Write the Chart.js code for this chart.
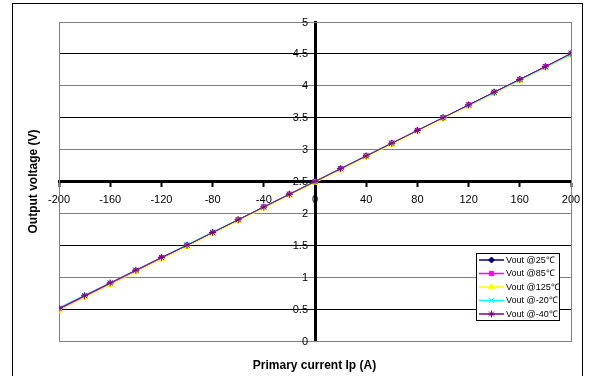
<!DOCTYPE html>
<html>
<head>
<meta charset="utf-8">
<script src="https://cdn.jsdelivr.net/npm/chart.js@4/dist/chart.umd.min.js"></script>
<style>
  html, body { margin: 0; padding: 0; background: #fff; }
  #chart { display: block; }
</style>
</head>
<body>
<canvas id="chart" width="590" height="376"></canvas>
<script>
// Primary current (A) on the x axis
const currents = [-200, -180, -160, -140, -120, -100, -80, -60, -40, -20, 0, 20, 40, 60, 80, 100, 120, 140, 160, 180, 200];

// Output voltage (V) per temperature
const vout25  = [0.50, 0.70, 0.90, 1.10, 1.30, 1.50, 1.70, 1.90, 2.10, 2.30, 2.50, 2.70, 2.90, 3.10, 3.30, 3.50, 3.70, 3.90, 4.10, 4.30, 4.50];
const vout85  = [0.50, 0.70, 0.90, 1.10, 1.30, 1.50, 1.70, 1.90, 2.10, 2.30, 2.50, 2.70, 2.90, 3.10, 3.30, 3.50, 3.70, 3.90, 4.10, 4.30, 4.50];
const vout125 = [0.48, 0.68, 0.88, 1.08, 1.28, 1.48, 1.68, 1.88, 2.08, 2.28, 2.48, 2.68, 2.88, 3.08, 3.28, 3.48, 3.68, 3.88, 4.08, 4.28, 4.48];
const voutM20 = [0.52, 0.72, 0.91, 1.11, 1.31, 1.51, 1.71, 1.90, 2.10, 2.30, 2.50, 2.70, 2.90, 3.10, 3.30, 3.50, 3.69, 3.89, 4.09, 4.29, 4.49];
const voutM40 = [0.51, 0.71, 0.91, 1.11, 1.31, 1.50, 1.70, 1.90, 2.10, 2.30, 2.50, 2.70, 2.90, 3.10, 3.30, 3.50, 3.70, 3.90, 4.10, 4.30, 4.51];

const seriesLabels = ['Vout @25\u2103', 'Vout @85\u2103', 'Vout @125\u2103', 'Vout @-20\u2103', 'Vout @-40\u2103'];
const xTitle = 'Primary current Ip (A)';
const yTitle = 'Output voltage (V)';

const FONT = '"Liberation Sans", Arial, sans-serif';

function toPoints(arr) {
    return currents.map((x, i) => ({ x: x, y: arr[i] }));
}

const seriesStyle = [
    { color: '#000080', pointStyle: 'rectRot', radius: 3 },
    { color: '#FF00FF', pointStyle: 'rect', radius: 3 },
    { color: '#FFFF00', pointStyle: 'triangle', radius: 3.5 },
    { color: '#00FFFF', pointStyle: 'crossRot', radius: 3.5 },
    { color: '#800080', pointStyle: 'star', radius: 3.5 }
];

const seriesData = [vout25, vout85, vout125, voutM20, voutM40];

const datasets = seriesData.map((arr, i) => ({
    label: seriesLabels[i],
    data: toPoints(arr),
    borderColor: seriesStyle[i].color,
    backgroundColor: seriesStyle[i].color,
    pointStyle: seriesStyle[i].pointStyle,
    pointRadius: seriesStyle[i].radius,
    pointBorderWidth: 1,
    borderWidth: 1,
    tension: 0,
    order: seriesData.length - i   // later series drawn on top, like Excel
}));

// white page, outer frame and grey plot frame
const frame = {
    id: 'frame',
    beforeDraw(chart) {
        const ctx = chart.ctx;
        ctx.save();
        ctx.fillStyle = '#fff';
        ctx.fillRect(0, 0, chart.width, chart.height);
        ctx.strokeStyle = '#000';
        ctx.lineWidth = 1;
        ctx.strokeRect(12.5, 3.5, 570, 400);
        ctx.restore();
    },
    beforeDatasetsDraw(chart) {
        const a = chart.chartArea;
        const ctx = chart.ctx;
        ctx.save();
        ctx.strokeStyle = '#808080';
        ctx.lineWidth = 1;
        ctx.strokeRect(Math.round(a.left) + 0.5, Math.round(a.top) + 0.5,
            Math.round(a.right - a.left), Math.round(a.bottom - a.top));
        ctx.restore();
    }
};

// y tick labels: the centred y axis puts them flush on the axis line,
// so draw them here with a small gap, reading positions from the scale
const yLabels = {
    id: 'yLabels',
    afterDraw(chart) {
        const ys = chart.scales.y;
        const xPix = chart.scales.x.getPixelForValue(0);
        const ctx = chart.ctx;
        ctx.save();
        ctx.fillStyle = '#000';
        ctx.font = '11px ' + FONT;
        ctx.textAlign = 'right';
        ctx.textBaseline = 'middle';
        ys.ticks.forEach(t => {
            ctx.fillText(String(t.value), xPix - 7, ys.getPixelForValue(t.value) + 0.5);
        });
        ctx.restore();
    }
};

// axis titles sit at the chart edges, not at the centred axes
const axisTitles = {
    id: 'axisTitles',
    afterDraw(chart) {
        const a = chart.chartArea;
        const ctx = chart.ctx;
        ctx.save();
        ctx.fillStyle = '#000';
        ctx.font = 'bold 12px ' + FONT;
        ctx.textAlign = 'center';
        ctx.textBaseline = 'middle';
        ctx.fillText(xTitle, (a.left + a.right) / 2 - 0.5, 366);
        ctx.translate(34, (a.top + a.bottom) / 2);
        ctx.rotate(-Math.PI / 2);
        ctx.fillText(yTitle, 0, 0);
        ctx.restore();
    }
};

// boxed legend in the lower right of the plot
const legendBox = {
    id: 'legendBox',
    afterDatasetsDraw(chart) {
        const ctx = chart.ctx;
        const x0 = 476, y0 = 253, w = 83, h = 67;
        ctx.save();
        ctx.fillStyle = '#fff';
        ctx.fillRect(x0, y0, w, h);
        ctx.strokeStyle = '#000';
        ctx.lineWidth = 1;
        ctx.strokeRect(x0 + 0.5, y0 + 0.5, w, h);
        chart.data.datasets.forEach((ds, i) => {
            const y = 260 + i * 13.5;
            ctx.strokeStyle = ds.borderColor;
            ctx.lineWidth = 1.5;
            ctx.beginPath();
            ctx.moveTo(479, y);
            ctx.lineTo(504, y);
            ctx.stroke();
            ctx.fillStyle = ds.backgroundColor;
            ctx.lineWidth = 1;
            Chart.helpers.drawPoint(ctx, {
                pointStyle: ds.pointStyle, radius: ds.pointRadius, borderWidth: 1, rotation: 0
            }, 491.5, y);
            ctx.fillStyle = '#000';
            ctx.font = '9px ' + FONT;
            ctx.textAlign = 'left';
            ctx.textBaseline = 'middle';
            ctx.fillText(ds.label, 506, y + 0.5);
        });
        ctx.restore();
    }
};

new Chart(document.getElementById('chart'), {
    type: 'line',
    data: { datasets: datasets },
    plugins: [frame, yLabels, axisTitles, legendBox],
    options: {
        responsive: false,
        animation: false,
        layout: { padding: { left: 59, top: 22, right: 19, bottom: 35 } },
        plugins: {
            legend: { display: false },
            tooltip: { enabled: false },
            title: { display: false }
        },
        scales: {
            x: {
                type: 'linear',
                position: { y: 2.5 },
                min: -200, max: 200,
                grid: { drawOnChartArea: false, drawTicks: true, tickLength: 4, color: '#000', tickWidth: 2 },
                border: { display: true, color: '#000', width: 3 },
                ticks: { stepSize: 40, color: '#000', font: { family: FONT, size: 11 }, padding: 8, maxRotation: 0 }
            },
            y: {
                type: 'linear',
                position: { x: 0 },
                min: 0, max: 5,
                grid: {
                    drawTicks: true, tickLength: 4,
                    color: ctx => (ctx.tick && ctx.tick.value % 1 === 0) ? '#808080' : '#000',
                    lineWidth: 1
                },
                border: { display: true, color: '#000', width: 3 },
                ticks: { stepSize: 0.5, display: false }
            }
        }
    }
});
</script>
</body>
</html>
